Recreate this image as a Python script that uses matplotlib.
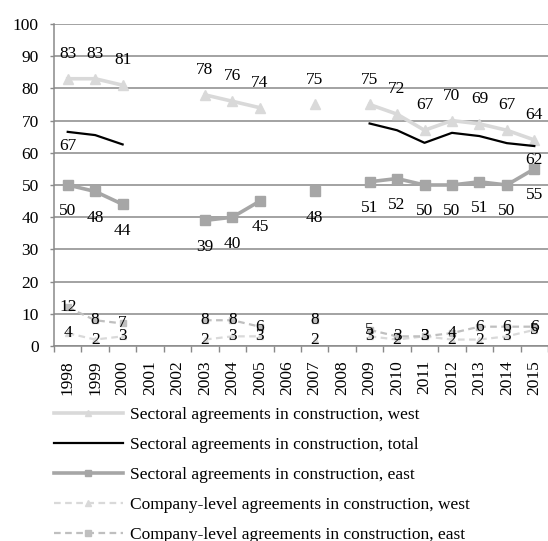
import numpy as np
import matplotlib
matplotlib.use("Agg")
import matplotlib.pyplot as plt
from matplotlib.ticker import FixedLocator

nan = np.nan

years = [str(y) for y in range(1998, 2016)]

sect_west = [83, 83, 81, nan, nan, 78, 76, 74, nan, 75, nan, 75, 72, 67, 70, 69, 67, 64]
sect_total = [66.5, 65.5, 62.6, nan, nan, nan, nan, nan, nan, nan, nan, 69.1, 67, 63.1, 66.2, 65.2, 63, 62.1]
sect_total_labels = {0: "67", 17: "62"}
sect_east = [50, 48, 44, nan, nan, 39, 40, 45, nan, 48, nan, 51, 52, 50, 50, 51, 50, 55]
comp_west = [4, 2, 3, nan, nan, 2, 3, 3, nan, 2, nan, 3, 2, 3, 2, 2, 3, 5]
comp_east = [12, 8, 7, nan, nan, 8, 8, 6, nan, 8, nan, 5, 3, 3, 4, 6, 6, 6]

legend_labels = [
    "Sectoral agreements in construction, west",
    "Sectoral agreements in construction, total",
    "Sectoral agreements in construction, east",
    "Company-level agreements in construction, west",
    "Company-level agreements in construction, east",
]

SERIF = ["Liberation Serif", "DejaVu Serif"]
plt.rcParams["font.family"] = SERIF

W, H = 548, 541
fig = plt.figure(figsize=(W / 100, H / 100), dpi=100)
ax = fig.add_axes([54 / W, 1 - 346 / H, 494 / W, 322 / H])

x = np.arange(len(years))
light = "#d9d9d9"
mid = "#a6a6a6"
dash_mid = "#bfbfbf"

l1, = ax.plot(x, sect_west, color=light, lw=2.6, marker="^", ms=6.5,
              markeredgecolor=light, markerfacecolor=light, zorder=3)
l2, = ax.plot(x, sect_total, color="black", lw=1.6, zorder=4)
l3, = ax.plot(x, sect_east, color=mid, lw=2.6, marker="s", ms=6.5,
              markeredgecolor=mid, markerfacecolor=mid, zorder=3)
l4, = ax.plot(x, comp_west, color=light, lw=1.6, ls=(0, (3, 2)), marker="^", ms=5,
              markeredgecolor=light, markerfacecolor=light, zorder=3)
l5, = ax.plot(x, comp_east, color=dash_mid, lw=1.6, ls=(0, (3, 2)), marker="s", ms=5,
              markeredgecolor=dash_mid, markerfacecolor=dash_mid, zorder=3)

lab_kw = dict(fontsize=12.5, ha="center", va="center", textcoords="offset points", zorder=6)

for i, v in enumerate(sect_west):
    if not np.isnan(v):
        ax.annotate(f"{v:g}", (i, v), xytext=(0, 18), **lab_kw)
for i, v in enumerate(sect_east):
    if not np.isnan(v):
        ax.annotate(f"{v:g}", (i, v), xytext=(0, -19), **lab_kw)
for i, t in sect_total_labels.items():
    ax.annotate(t, (i, sect_total[i]), xytext=(0, -10), **lab_kw)
for series in (comp_west, comp_east):
    for i, v in enumerate(series):
        if not np.isnan(v):
            ax.annotate(f"{v:g}", (i, v), xytext=(0, 0), **lab_kw)

ax.set_xlim(-0.5, len(years) - 0.5)
ax.set_ylim(0, 100)
ax.set_yticks(np.arange(0, 101, 10))
ax.set_xticks(x)
ax.set_xticklabels(years, rotation=90, fontsize=12.5)
ax.xaxis.set_minor_locator(FixedLocator(np.arange(-0.5, len(years), 1)))
ax.tick_params(axis="x", which="major", length=0, pad=10)
ax.tick_params(axis="x", which="minor", length=4.5, width=1, color="#898989", direction="out")
ax.tick_params(axis="y", length=3, width=1, color="#898989", labelsize=12.5, pad=8)

ax.grid(axis="y", color="#898989", lw=1.1, zorder=0)
ax.set_axisbelow(True)
for side in ("top", "right"):
    ax.spines[side].set_visible(False)
for side in ("left", "bottom"):
    ax.spines[side].set_color("#898989")
    ax.spines[side].set_linewidth(1.1)

fig.legend([l1, l2, l3, l4, l5], legend_labels, loc="upper left",
           bbox_to_anchor=(54 / W, 1 - 407 / H), frameon=False, fontsize=12.5,
           handlelength=3.95, handletextpad=0.4, labelspacing=0.8,
           borderpad=0, borderaxespad=0, numpoints=1, markerscale=0.75)

fig.savefig("out.png", dpi=100)
